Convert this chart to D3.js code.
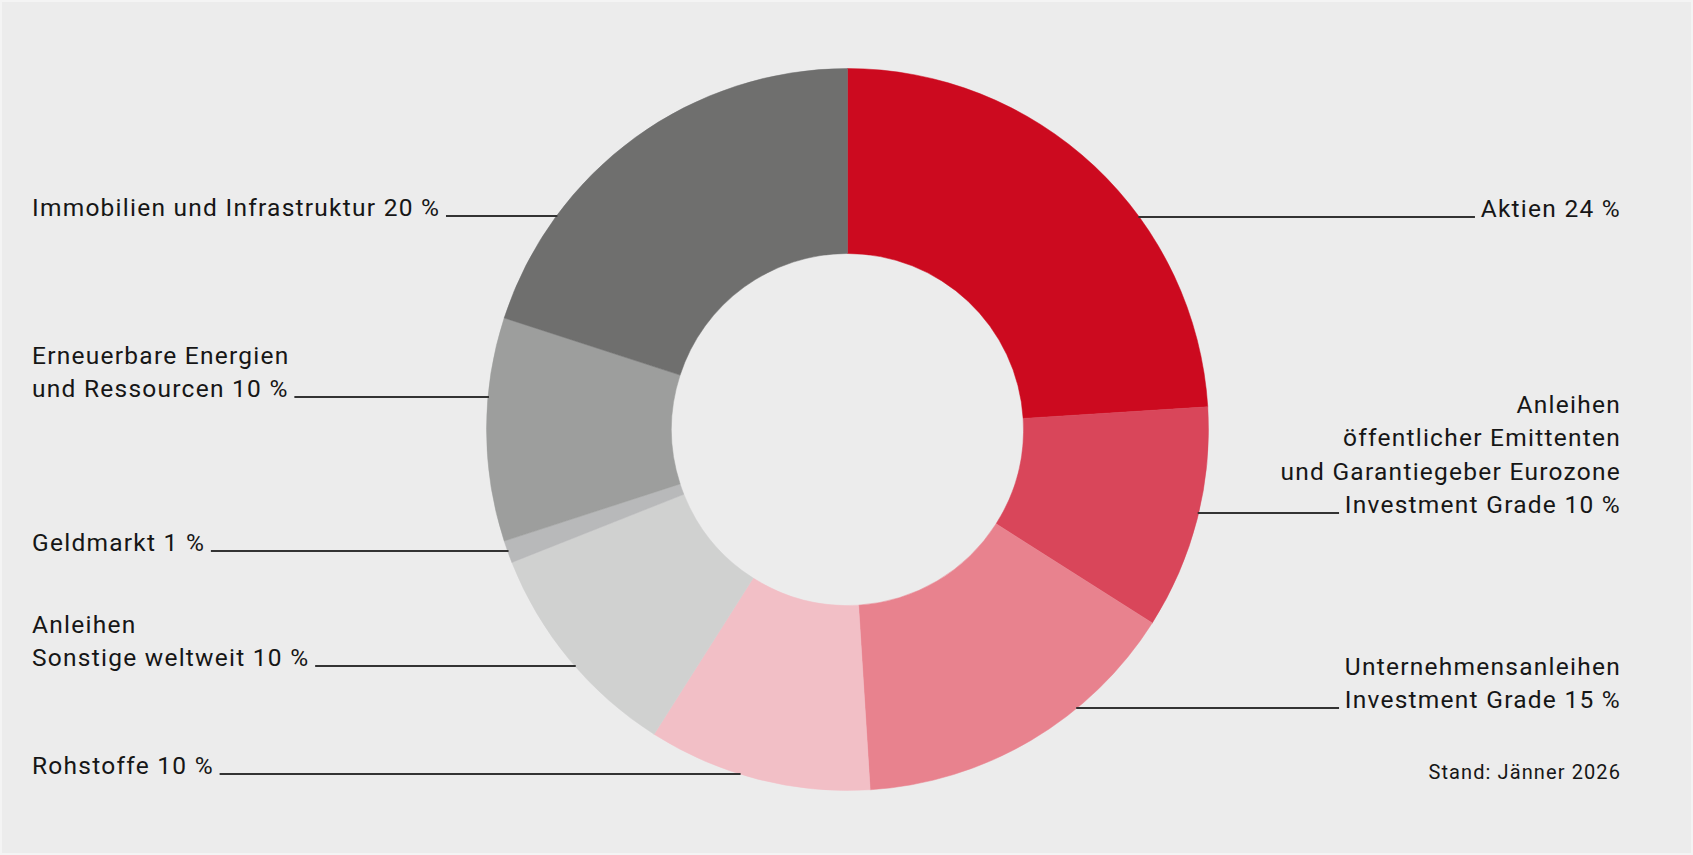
<!DOCTYPE html>
<html>
<head>
<meta charset="utf-8">
<script src="https://cdn.jsdelivr.net/npm/d3@7"></script>
<style>
  html, body { margin: 0; padding: 0; background: #ffffff; }
  svg { display: block; }
  text { font-family: Roboto, "Liberation Sans", sans-serif; fill: #161616; }
</style>
</head>
<body>
<svg id="chart" width="1693" height="855"></svg>
<script>
// ---- data ----
const categories = [
  "Aktien",
  "Anleihen öffentlicher Emittenten und Garantiegeber Eurozone Investment Grade",
  "Unternehmensanleihen Investment Grade",
  "Rohstoffe",
  "Anleihen Sonstige weltweit",
  "Geldmarkt",
  "Erneuerbare Energien und Ressourcen",
  "Immobilien und Infrastruktur"
];
const values = [24, 10, 15, 10, 10, 1, 10, 20];
const labelLines = [
  ["Aktien 24 %"],
  ["Anleihen", "öffentlicher Emittenten", "und Garantiegeber Eurozone", "Investment Grade 10 %"],
  ["Unternehmensanleihen", "Investment Grade 15 %"],
  ["Rohstoffe 10 %"],
  ["Anleihen", "Sonstige weltweit 10 %"],
  ["Geldmarkt 1 %"],
  ["Erneuerbare Energien", "und Ressourcen 10 %"],
  ["Immobilien und Infrastruktur 20 %"]
];
const footnote = "Stand: Jänner 2026";

// ---- styles / layout ----
const palette = ["#cc0a1f", "#d9465a", "#e8828e", "#f2bfc6", "#d0d1d0", "#b8b9ba", "#9d9e9d", "#6f6f6e"];
const labelSide = ["right", "right", "right", "left", "left", "left", "left", "left"];
const labelLineY = [217, 513, 708, 774, 666, 551, 397, 216];

const W = 1693, H = 855;
const cx = 847.5, cy = 429.5, R = 361, r = 176;
const leftX = 32, rightX = 1621;
const lineH = 33.5, fontSize = 24.5, letterSp = 1.25, gap = 7;

const svg = d3.select("#chart");
svg.append("rect").attr("x", 0).attr("y", 0).attr("width", W).attr("height", H).attr("fill", "#f4f4f4");
svg.append("rect").attr("x", 2).attr("y", 2).attr("width", W - 4).attr("height", H - 4).attr("fill", "#ececec");

const pie = d3.pie().sort(null).value(d => d).startAngle(0).endAngle(2 * Math.PI);
const arcs = pie(values);
const arc = d3.arc().innerRadius(r).outerRadius(R);
const color = d3.scaleOrdinal().domain(d3.range(values.length)).range(palette);

const g = svg.append("g").attr("transform", `translate(${cx},${cy})`);
g.selectAll("path").data(arcs).join("path")
  .attr("d", arc)
  .attr("fill", (d, i) => color(i))
  .attr("stroke", (d, i) => color(i))
  .attr("stroke-width", 0.5);

// labels
const lab = svg.append("g");
labelLines.forEach((lines, i) => {
  const side = labelSide[i];
  const lastY = labelLineY[i];
  const n = lines.length;
  const t = lab.append("text")
    .attr("font-size", fontSize)
    .attr("letter-spacing", letterSp)
    .attr("text-anchor", side === "right" ? "end" : "start");
  let lastNode = null;
  lines.forEach((s, k) => {
    const ts = t.append("tspan")
      .attr("x", side === "right" ? rightX : leftX)
      .attr("y", lastY - (n - 1 - k) * lineH)
      .text(s);
    lastNode = ts.node();
  });
  const w = lastNode.getComputedTextLength();
  const dy = lastY - cy;
  const dx = Math.sqrt(Math.max(0, R * R - dy * dy));
  let x1, x2;
  if (side === "right") {
    x1 = cx + dx - 1;
    x2 = rightX - w - gap + letterSp;
  } else {
    x1 = leftX + w + gap - letterSp;
    x2 = cx - dx + 1;
  }
  lab.append("line")
    .attr("x1", x1).attr("x2", x2)
    .attr("y1", lastY).attr("y2", lastY)
    .attr("stroke", "#333333").attr("stroke-width", 2);
});

svg.append("text")
  .attr("x", rightX).attr("y", 779)
  .attr("text-anchor", "end")
  .attr("font-size", 20)
  .attr("letter-spacing", 1.1)
  .text(footnote);
</script>
</body>
</html>
